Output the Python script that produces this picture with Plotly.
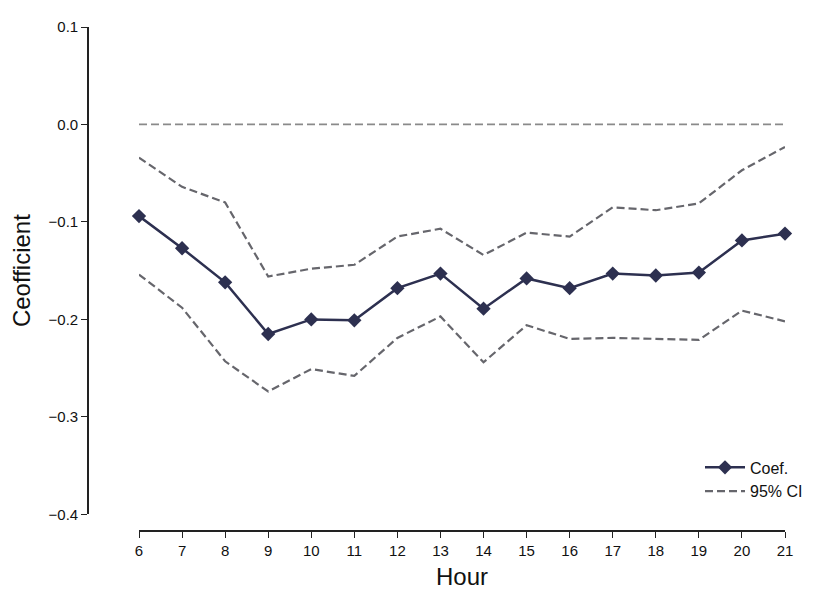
import plotly.graph_objects as go

hours = [6, 7, 8, 9, 10, 11, 12, 13, 14, 15, 16, 17, 18, 19, 20, 21]
coef = [-0.094, -0.127, -0.162, -0.215, -0.200, -0.201, -0.168, -0.153,
        -0.189, -0.158, -0.168, -0.153, -0.155, -0.152, -0.119, -0.112]
ci_upper = [-0.034, -0.064, -0.080, -0.156, -0.148, -0.144, -0.115, -0.107,
            -0.134, -0.111, -0.115, -0.085, -0.088, -0.081, -0.047, -0.023]
ci_lower = [-0.154, -0.188, -0.243, -0.274, -0.251, -0.258, -0.219, -0.197,
            -0.244, -0.206, -0.220, -0.219, -0.220, -0.221, -0.191, -0.202]
zero_line = [0.0] * len(hours)
y_ticks = [0.1, 0.0, -0.1, -0.2, -0.3, -0.4]
y_tick_text = ["0.1", "0.0", "\u22120.1", "\u22120.2", "\u22120.3", "\u22120.4"]

# page body has an 8px margin; compensate so the figure lands at the target pixels
OFF = 8
W, H = 831 - OFF, 604 - OFF
ml, mr, mt, mb = 88 - OFF, 30, 18 - OFF, 73
pw = W - ml - mr
ph = H - mt - mb
x_left_px, x_right_px = 139 - OFF, 785 - OFF
y_bottom_px = 514 - OFF

fig = go.Figure()

dash = "8px,4px"
fig.add_trace(go.Scatter(
    x=hours, y=zero_line, mode="lines", showlegend=False,
    line=dict(color="#8a8a8a", width=1.8, dash=dash), cliponaxis=False,
))
fig.add_trace(go.Scatter(
    x=hours, y=ci_upper, mode="lines", name="95% CI", showlegend=False,
    line=dict(color="#66666c", width=2.2, dash=dash), cliponaxis=False,
))
fig.add_trace(go.Scatter(
    x=hours, y=ci_lower, mode="lines", name="95% CI", showlegend=False,
    line=dict(color="#66666c", width=2.2, dash=dash), cliponaxis=False,
))
fig.add_trace(go.Scatter(
    x=hours, y=coef, mode="lines+markers", name="Coef.",
    line=dict(color="#2d3050", width=2.5),
    marker=dict(symbol="diamond", size=11, color="#2d3050"),
    cliponaxis=False,
))
fig.add_trace(go.Scatter(
    x=[None], y=[None], mode="lines", name="95% CI",
    line=dict(color="#66666c", width=2.2, dash=dash),
))

font_family = "Liberation Sans, Arial, sans-serif"
axis_common = dict(
    showline=True, linecolor="#222222", linewidth=1.6,
    ticks="outside", ticklen=6, tickwidth=1.4, tickcolor="#222222",
    showgrid=False, zeroline=False,
    tickfont=dict(size=15, color="#111111", family=font_family),
)

fig.update_layout(
    width=W, height=H,
    margin=dict(l=ml, r=mr, t=mt, b=mb, pad=0),
    plot_bgcolor="white", paper_bgcolor="white",
    font=dict(family=font_family, color="#111111"),
    xaxis=dict(
        **axis_common,
        domain=[(x_left_px - ml) / pw, (x_right_px - ml) / pw],
        range=[6, 21],
        tickmode="array", tickvals=hours,
        anchor="free", position=0,
        title=dict(text="Hour", font=dict(size=24, color="#111111"), standoff=9),
    ),
    yaxis=dict(
        **axis_common,
        domain=[(H - mb - y_bottom_px) / ph, 1],
        range=[-0.4, 0.1],
        tickmode="array", tickvals=y_ticks, ticktext=y_tick_text,
        anchor="free", position=0,
        title=dict(text="Ceofficient", font=dict(size=24, color="#111111"), standoff=11),
    ),
    legend=dict(
        x=(700 - OFF - ml) / pw, xanchor="left",
        y=(H - mb - (449 - OFF)) / ph, yanchor="top",
        bgcolor="rgba(255,255,255,0)",
        font=dict(size=16, color="#111111"),
        itemwidth=40,
        tracegroupgap=2,
    ),
)

fig.write_html("out.html")
